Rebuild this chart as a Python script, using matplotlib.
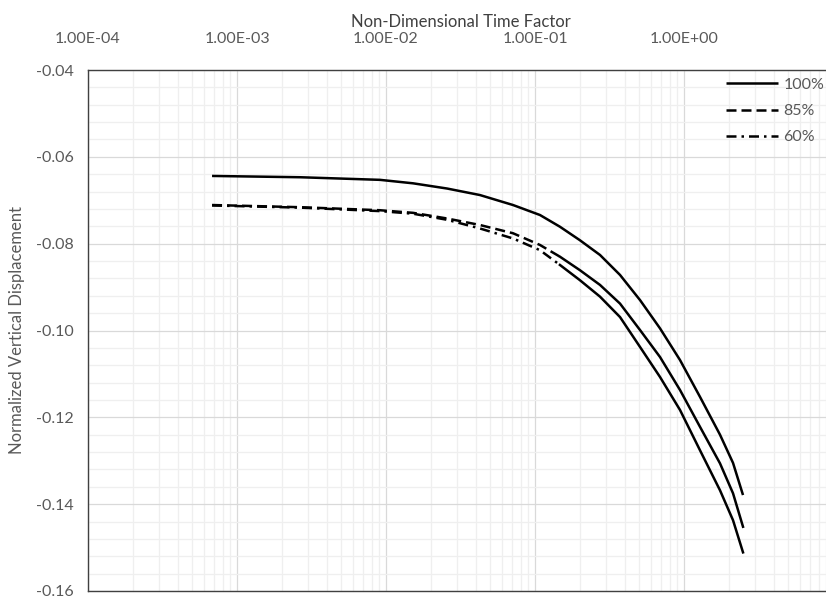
import numpy as np
import matplotlib
matplotlib.use("Agg")
import matplotlib.pyplot as plt
from matplotlib.ticker import FixedLocator, LogLocator, MultipleLocator, FuncFormatter

plt.rcParams['font.family'] = ['Lato', 'DejaVu Sans']

# time factor values (log x axis)
t_100 = [6.8e-4, 2.65e-3, 9.11e-3, 0.0152, 0.0257, 0.0427, 0.0712, 0.108, 0.147, 0.200,
         0.273, 0.372, 0.507, 0.690, 0.940, 1.281, 1.744, 2.133, 2.489]
d_100 = [-0.0644, -0.0647, -0.0653, -0.0661, -0.0673, -0.0688, -0.0711, -0.0734, -0.0761, -0.0792,
         -0.0826, -0.0872, -0.0930, -0.0995, -0.1068, -0.1153, -0.1240, -0.1305, -0.1379]

t_85 = [6.8e-4, 2.65e-3, 9.11e-3, 0.0152, 0.0257, 0.0427, 0.0712, 0.108, 0.147, 0.200,
        0.273, 0.372, 0.507, 0.690, 0.940, 1.281, 1.744, 2.133, 2.489]
d_85 = [-0.0711, -0.0716, -0.0723, -0.0729, -0.0742, -0.0757, -0.0776, -0.0803, -0.0830, -0.0861,
        -0.0895, -0.0938, -0.0999, -0.1061, -0.1137, -0.1222, -0.1306, -0.1375, -0.1452]

t_60 = [6.8e-4, 2.65e-3, 9.11e-3, 0.0152, 0.0257, 0.0427, 0.0712, 0.108, 0.147, 0.200,
        0.273, 0.372, 0.507, 0.690, 0.940, 1.281, 1.744, 2.133, 2.489]
d_60 = [-0.0712, -0.0717, -0.0725, -0.0731, -0.0745, -0.0765, -0.0788, -0.0815, -0.0849, -0.0884,
        -0.0922, -0.0969, -0.1038, -0.1107, -0.1183, -0.1276, -0.1368, -0.1437, -0.1511]

labels = ['100%', '85%', '60%']
x_ticks = [1e-4, 1e-3, 1e-2, 1e-1, 1e0]
y_ticks = [-0.04, -0.06, -0.08, -0.10, -0.12, -0.14, -0.16]

# excel restarts the dash pattern per segment, so the dense right part looks solid
solid_from = 0.15

gray = '#595959'

fig = plt.figure(figsize=(8.26, 6.0), dpi=100)
ax = fig.add_axes([88 / 826, 1 - 591 / 600, 745 / 826, 521 / 600])

ax.set_xscale('log')
ax.set_xlim(1e-4, 1e1)
ax.set_ylim(-0.16, -0.04)

series = [(t_100, d_100, '-'), (t_85, d_85, (0, (4, 2))), (t_60, d_60, (0, (4, 2, 1, 2)))]
for (t, d, ls), lab in zip(series, labels):
    t = np.array(t)
    d = np.array(d)
    if ls == '-':
        ax.plot(t, d, color='black', lw=1.8, ls='-', label=lab, solid_capstyle='butt')
        continue
    left = t <= solid_from
    right = t >= t[left][-1]
    ax.plot(t[left], d[left], color='black', lw=1.8, ls=ls, label=lab, dash_capstyle='butt')
    ax.plot(t[right], d[right], color='black', lw=1.8, ls='-')

ax.xaxis.set_major_locator(FixedLocator(x_ticks))
ax.xaxis.set_minor_locator(LogLocator(base=10, subs=np.arange(2, 10)))
ax.xaxis.set_major_formatter(FuncFormatter(lambda v, p: f"{v:.2E}"))
ax.yaxis.set_major_locator(FixedLocator(y_ticks))
ax.yaxis.set_minor_locator(MultipleLocator(0.004))
ax.yaxis.set_major_formatter(FuncFormatter(lambda v, p: f"{v:.2f}"))

ax.xaxis.tick_top()
ax.xaxis.set_label_position('top')
ax.tick_params(which='both', length=0)
ax.tick_params(axis='x', pad=17, labelsize=11.5, labelcolor=gray)
ax.tick_params(axis='y', pad=10, labelsize=11.5, labelcolor=gray)

ax.grid(which='major', color='#d9d9d9', lw=0.9)
ax.grid(which='minor', color='#efefef', lw=0.9)
ax.set_axisbelow(True)

for s in ['left', 'top', 'bottom']:
    ax.spines[s].set_color('#404040')
    ax.spines[s].set_linewidth(1.0)
ax.spines['right'].set_visible(False)

ax.set_xlabel('Non-Dimensional Time Factor', fontsize=12, color='#404040', labelpad=4)
ax.set_ylabel('Normalized Vertical Displacement', fontsize=12, color=gray, labelpad=8)

leg = ax.legend(loc='upper left', bbox_to_anchor=(0.856, 0.985), frameon=False,
                borderaxespad=0, borderpad=0, handlelength=3.3, handletextpad=0.3,
                labelspacing=0.75, fontsize=11.5)
for txt in leg.get_texts():
    txt.set_color(gray)

fig.savefig('out.png', dpi=100)
